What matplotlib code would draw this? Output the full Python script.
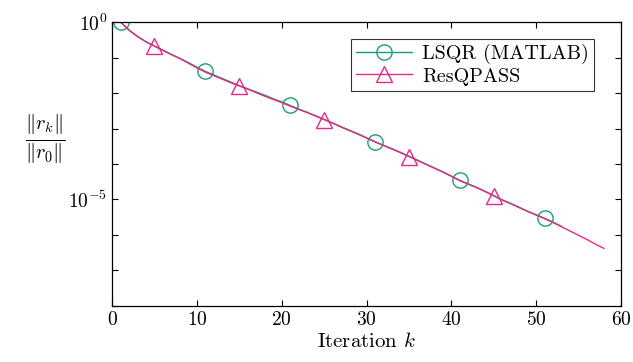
import numpy as np
import matplotlib
matplotlib.use("Agg")
import matplotlib.pyplot as plt
from matplotlib.ticker import FixedLocator, FuncFormatter, NullLocator

plt.rcParams['font.family'] = 'serif'
plt.rcParams['font.serif'] = ['cmr10']
plt.rcParams['mathtext.fontset'] = 'cm'
plt.rcParams['axes.formatter.use_mathtext'] = True

# log10 of relative residual per iteration
lsqr_log = [0.00, -0.22, -0.40, -0.55, -0.67, -0.79, -0.91, -1.02, -1.14, -1.27,
            -1.39, -1.49, -1.59, -1.69, -1.79, -1.88, -1.97, -2.06, -2.16, -2.25,
            -2.35, -2.45, -2.54, -2.64, -2.74, -2.84, -2.95, -3.05, -3.15, -3.26,
            -3.37, -3.47, -3.57, -3.67, -3.78, -3.89, -4.00, -4.11, -4.22, -4.34,
            -4.46, -4.56, -4.66, -4.77, -4.89, -5.01, -5.11, -5.22, -5.33, -5.43,
            -5.53, -5.64, -5.76]
resq_log = [0.00, -0.23, -0.41, -0.56, -0.68, -0.80, -0.92, -1.03, -1.16, -1.29,
            -1.41, -1.51, -1.61, -1.71, -1.80, -1.89, -1.99, -2.09, -2.18, -2.27,
            -2.37, -2.46, -2.55, -2.65, -2.75, -2.85, -2.96, -3.06, -3.16, -3.27,
            -3.38, -3.48, -3.58, -3.68, -3.79, -3.90, -4.01, -4.12, -4.23, -4.35,
            -4.47, -4.57, -4.67, -4.78, -4.90, -5.02, -5.12, -5.23, -5.34, -5.44,
            -5.54, -5.65, -5.77, -5.89, -6.01, -6.13, -6.26, -6.38]

lsqr_k = np.arange(1, len(lsqr_log) + 1)
resq_k = np.arange(1, len(resq_log) + 1)
lsqr = 10.0 ** np.array(lsqr_log)
resq = 10.0 ** np.array(resq_log)

green = '#1b9e77'
pink = '#e7298a'

fig = plt.figure(figsize=(6.33, 3.62), dpi=100)
ax = fig.add_axes([0.177, 0.155, 0.804, 0.784])

ax.semilogy(lsqr_k, lsqr, color=green, lw=1.0, marker='o', markevery=[0, 10, 20, 30, 40, 50],
            ms=11, mfc='none', mec=green, mew=1.0, label='LSQR (MATLAB)')
ax.semilogy(resq_k, resq, color=pink, lw=1.0, marker='^', markevery=[4, 14, 24, 34, 44],
            ms=11, mfc='none', mec=pink, mew=1.0, label='ResQPASS')

ax.set_xlim(0, 60)
ax.set_ylim(1e-8, 1e0)
ax.set_xticks(range(0, 61, 10))
ax.yaxis.set_major_locator(FixedLocator([10.0 ** e for e in range(-8, 1)]))
ax.yaxis.set_minor_locator(NullLocator())


def yfmt(v, pos):
    e = int(round(np.log10(v)))
    if e in (0, -5):
        return r'$10^{%d}$' % e
    return ''


ax.yaxis.set_major_formatter(FuncFormatter(yfmt))
ax.tick_params(direction='in', top=True, right=True, labelsize=14, length=4, width=0.8)
for s in ax.spines.values():
    s.set_linewidth(0.9)

ax.set_xlabel(r'Iteration $k$', fontsize=15, labelpad=2)
fig.text(0.072, 0.615, r'$\frac{\|r_k\|}{\|r_0\|}$', fontsize=21, ha='center', va='center')

leg = ax.legend(loc='upper right', fontsize=14.5, frameon=True, fancybox=False,
                edgecolor='black', handlelength=2.8, borderpad=0.25, labelspacing=0.15,
                handletextpad=0.5, bbox_to_anchor=(0.967, 0.975))
leg.get_frame().set_linewidth(0.8)

fig.savefig('out.png', dpi=100)
